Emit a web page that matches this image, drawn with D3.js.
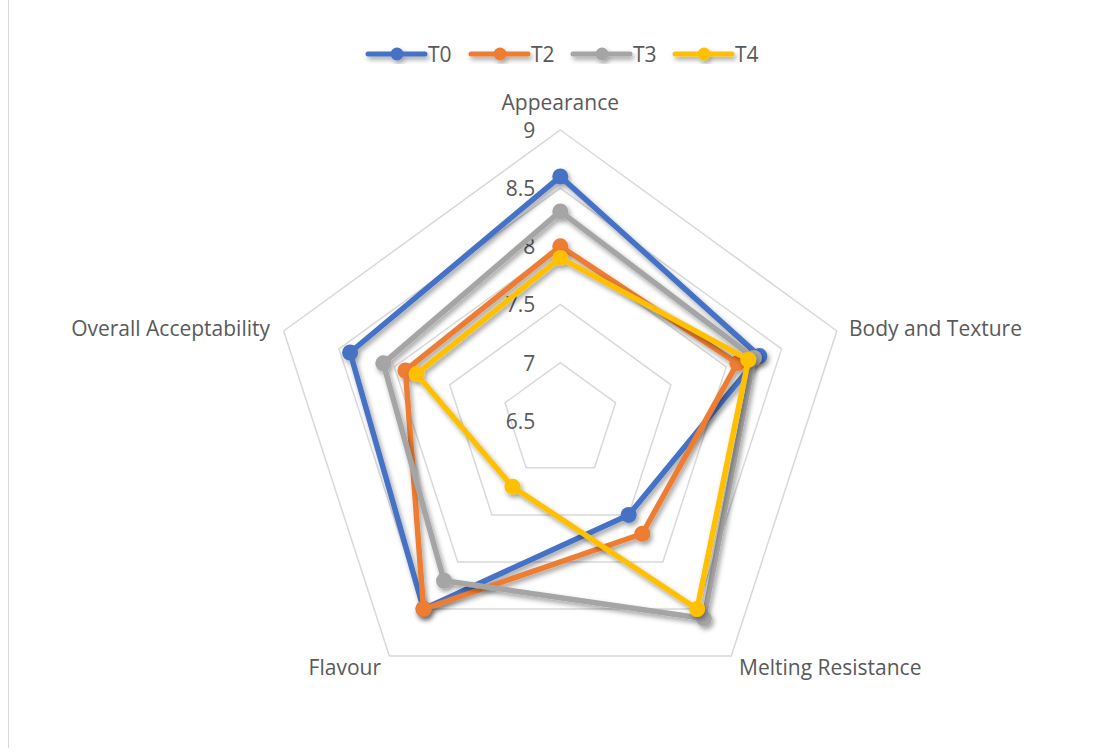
<!DOCTYPE html>
<html>
<head>
<meta charset="utf-8">
<script src="https://cdn.jsdelivr.net/npm/d3@7"></script>
<style>
  html, body { margin: 0; padding: 0; background: #fff; }
  svg { display: block; font-family: "Open Sans", Lato, sans-serif; }
</style>
</head>
<body>
<svg id="chart" width="1100" height="754"></svg>
<script>
// Sensory attributes (radar axes, clockwise from top)
const attributes = ["Appearance", "Body and Texture", "Melting Resistance", "Flavour", "Overall Acceptability"];

// Mean scores per treatment, in attribute order
const seriesNames = ["T0", "T2", "T3", "T4"];
const T0 = [8.6, 8.3, 7.5, 8.5, 8.4];
const T2 = [8.0, 8.1, 7.7, 8.5, 7.9];
const T3 = [8.3, 8.25, 8.6, 8.2, 8.1];
const T4 = [7.9, 8.2, 8.5, 7.2, 7.8];

// Radial axis ticks
const tickValues = [6.5, 7, 7.5, 8, 8.5, 9];

const colors = ["#4472C4", "#ED7D31", "#A5A5A5", "#FFC000"];
const seriesValues = [T0, T2, T3, T4];

const svg = d3.select("#chart");
const cx = 560.3, cy = 420.8, R = 290.8;

const r = d3.scaleLinear().domain([6.5, 9]).range([0, R]);
const angle = d3.scaleLinear().domain([0, attributes.length]).range([-Math.PI / 2, 1.5 * Math.PI]);
const pt = (i, v) => [cx + r(v) * Math.cos(angle(i)), cy + r(v) * Math.sin(angle(i))];

// soft drop shadow under the series lines
const defs = svg.append("defs");
const f = defs.append("filter").attr("id", "shadow")
  .attr("x", "-20%").attr("y", "-20%").attr("width", "140%").attr("height", "140%");
f.append("feDropShadow").attr("dx", 2).attr("dy", 3).attr("stdDeviation", 2.4)
  .attr("flood-color", "#000").attr("flood-opacity", 0.38);

// chart area frame
svg.append("line").attr("x1", 8.5).attr("x2", 8.5).attr("y1", 0).attr("y2", 748)
  .attr("stroke", "#D9D9D9").attr("stroke-width", 1);

// grid pentagons
const grid = svg.append("g");
tickValues.filter(t => t > 6.5).forEach(t => {
  const pts = attributes.map((_, i) => pt(i, t));
  grid.append("polygon")
    .attr("points", pts.map(p => p.join(",")).join(" "))
    .attr("fill", "none").attr("stroke", "#D9D9D9").attr("stroke-width", 1.5);
});

// tick labels along the top spoke
grid.selectAll("text.tick").data(tickValues).join("text")
  .attr("class", "tick")
  .attr("x", cx - 25).attr("y", d => cy - r(d))
  .attr("text-anchor", "end").attr("dominant-baseline", "central")
  .attr("fill", "#595959").attr("font-size", 21)
  .text(d => d);

// attribute labels
const labelPos = [
  { x: cx, y: 102, anchor: "middle" },
  { x: 849, y: 328, anchor: "start" },
  { x: 739, y: 667, anchor: "start" },
  { x: 381, y: 667, anchor: "end" },
  { x: 270, y: 328, anchor: "end" }
];
svg.append("g").selectAll("text").data(attributes).join("text")
  .attr("x", (d, i) => labelPos[i].x).attr("y", (d, i) => labelPos[i].y)
  .attr("text-anchor", (d, i) => labelPos[i].anchor)
  .attr("dominant-baseline", "central")
  .attr("fill", "#595959").attr("font-size", 21)
  .text(d => d);

// series
const line = d3.lineRadial().angle((d, i) => angle(i) + Math.PI / 2).radius(d => r(d))
  .curve(d3.curveLinearClosed);
const series = svg.append("g").attr("transform", `translate(${cx},${cy})`);
seriesValues.forEach((vals, s) => {
  const g = series.append("g").attr("filter", "url(#shadow)");
  g.append("path").datum(vals).attr("d", line)
    .attr("fill", "none").attr("stroke", colors[s]).attr("stroke-width", 5.5)
    .attr("stroke-linejoin", "round");
  g.selectAll("circle").data(vals).join("circle")
    .attr("cx", (d, i) => pt(i, d)[0] - cx).attr("cy", (d, i) => pt(i, d)[1] - cy)
    .attr("r", 8).attr("fill", colors[s]);
});

// legend
const legendX = [368, 471, 573, 675];
const lg = svg.append("g");
seriesNames.forEach((name, s) => {
  const x0 = legendX[s];
  const item = lg.append("g").attr("filter", "url(#shadow)");
  item.append("line").attr("x1", x0).attr("x2", x0 + 57).attr("y1", 54).attr("y2", 54)
    .attr("stroke", colors[s]).attr("stroke-width", 5).attr("stroke-linecap", "round");
  item.append("circle").attr("cx", x0 + 29).attr("cy", 54).attr("r", 6.5).attr("fill", colors[s]);
  lg.append("text").attr("x", x0 + 60).attr("y", 54).attr("dominant-baseline", "central")
    .attr("fill", "#595959").attr("font-size", 21).text(name);
});
</script>
</body>
</html>
